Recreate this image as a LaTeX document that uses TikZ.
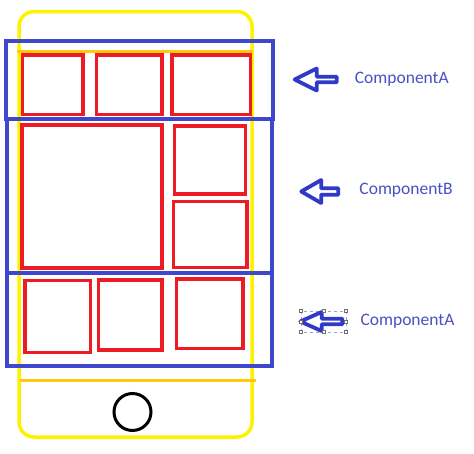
\documentclass[tikz,border=0pt]{standalone}
\usepackage{fontspec}
\newfontfamily\labelfont{Carlito}
\usetikzlibrary{shapes,arrows,positioning}
\definecolor{phoneyellow}{RGB}{255,242,0}
\definecolor{bargold}{RGB}{255,201,14}
\definecolor{cellred}{RGB}{237,28,36}
\definecolor{compblue}{RGB}{63,72,204}
\definecolor{arrowblue}{RGB}{48,58,200}
\definecolor{tagblue}{RGB}{72,80,196}
\definecolor{handlegray}{RGB}{110,110,110}
\definecolor{selblue}{RGB}{140,170,210}

\begin{document}
\begin{tikzpicture}[x=1pt, y=-1pt,
  phone/.style={draw=phoneyellow, line width=3.5pt, rounded corners=15pt},
  bar/.style={draw=bargold, line width=3pt},
  cell/.style={draw=cellred, line width=3.5pt},
  comp/.style={draw=compblue, line width=4pt},
  hollow/.style={single arrow, draw=arrowblue, line width=3.8pt, line join=round,
    shape border rotate=180, inner sep=0pt, outer sep=0pt, single arrow head indent=0pt},
  tag/.style={text=tagblue, font=\labelfont\fontsize{17.5}{20}\selectfont, inner sep=0pt},
  handle/.style={draw=handlegray, fill=white, line width=0.6pt}]
\useasboundingbox (0,0) rectangle (474,453);

%phone
\draw [phone] (19,11.5) rectangle (252,437);
\draw [bar] (17,51) -- (253,51);
\draw [bar] (20,380) -- (256,380);
\draw [black, line width=3pt] (132.5,412) circle (18.5);

%cells
\draw [cell] (22.5,55) rectangle (83,114.5);
\draw [cell] (96.5,55) rectangle (162,114.5);
\draw [cell] (172,55) rectangle (250.5,114.5);
\draw [cell] (22,125) rectangle (162,268);
\draw [cell] (174.5,126) rectangle (245.5,194);
\draw [cell] (173.5,201.5) rectangle (247,267.5);
\draw [cell] (25,280.5) rectangle (90.5,352.5);
\draw [cell] (98.5,280) rectangle (162,350);
\draw [cell] (176.5,279) rectangle (243,348.5);

%components
\draw [comp] (5.5,41) rectangle (272.5,119);
\draw [comp] (7,119) rectangle (271.5,273);
\draw [comp] (7,273) rectangle (271.5,366);

%arrows and labels
\node [hollow, minimum height=42pt, minimum width=22pt, single arrow tip angle=53,
  single arrow head extend=5.5pt] (arrA1) at (318.5,79.5) {};
\node [tag, right=18pt of arrA1] (tagA1) {ComponentA};

\node [hollow, minimum height=37pt, minimum width=23pt, single arrow tip angle=60,
  single arrow head extend=5pt] (arrB) at (322.5,191.5) {};
\node [tag, right=21pt of arrB, yshift=1pt] (tagB) {ComponentB};

\draw [selblue, dashed, line width=0.8pt] (301,311) rectangle (346,332);
\node [hollow, minimum height=42pt, minimum width=19pt, single arrow tip angle=48,
  single arrow head extend=4.5pt] (arrA2) at (324.5,321.5) {};
\foreach \hx/\hy in {301/311, 323.5/311, 346/311, 301/321.5, 346/321.5, 301/332, 323.5/332, 346/332}
  \draw [handle] (\hx-1.6,\hy-1.6) rectangle ++(3.2,3.2);
\node [tag, right=18pt of arrA2] (tagA2) {ComponentA};

\end{tikzpicture}
\end{document}
